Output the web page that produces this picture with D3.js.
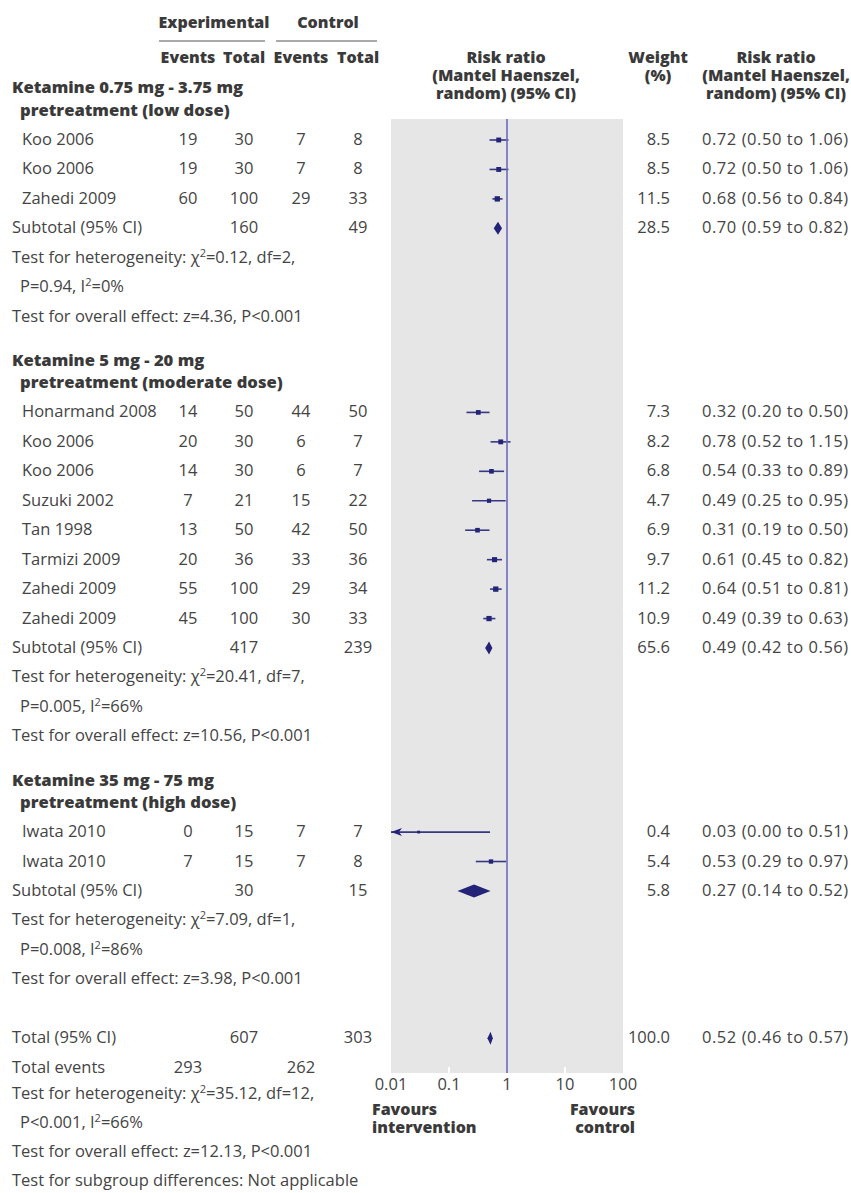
<!DOCTYPE html>
<html><head><meta charset="utf-8">
<script src="https://cdn.jsdelivr.net/npm/d3@7"></script>
<style>
html,body{margin:0;padding:0;background:#fff;}
svg{display:block;}
.t{font-family:"Open Sans",sans-serif;font-size:16.5px;font-weight:400;fill:#444;}
.ci{letter-spacing:0.55px;}
.b{font-family:"Open Sans",sans-serif;font-weight:800;font-size:16px;fill:#3a3a3a;}
.g{font-size:16.6px;}
</style></head>
<body><svg id="c" width="851" height="1193"></svg>
<script>
// ---------- data ----------
const groupLabels = [
  ["Ketamine 0.75 mg - 3.75 mg", "pretreatment (low dose)"],
  ["Ketamine 5 mg - 20 mg", "pretreatment (moderate dose)"],
  ["Ketamine 35 mg - 75 mg", "pretreatment (high dose)"]
];
const studyGroup = [0,0,0,1,1,1,1,1,1,1,1,2,2];
const studyNames = ["Koo 2006","Koo 2006","Zahedi 2009","Honarmand 2008","Koo 2006","Koo 2006","Suzuki 2002","Tan 1998","Tarmizi 2009","Zahedi 2009","Zahedi 2009","Iwata 2010","Iwata 2010"];
const expEvents = [19,19,60,14,20,14,7,13,20,55,45,0,7];
const expTotal  = [30,30,100,50,30,30,21,50,36,100,100,15,15];
const ctlEvents = [7,7,29,44,6,6,15,42,33,29,30,7,7];
const ctlTotal  = [8,8,33,50,7,7,22,50,36,34,33,7,8];
const weights   = [8.5,8.5,11.5,7.3,8.2,6.8,4.7,6.9,9.7,11.2,10.9,0.4,5.4];
const rr        = [0.72,0.72,0.68,0.32,0.78,0.54,0.49,0.31,0.61,0.64,0.49,0.03,0.53];
const rrLow     = [0.50,0.50,0.56,0.20,0.52,0.33,0.25,0.19,0.45,0.51,0.39,0.00,0.29];
const rrHigh    = [1.06,1.06,0.84,0.50,1.15,0.89,0.95,0.50,0.82,0.81,0.63,0.51,0.97];

const subExpTotal = [160,417,30];
const subCtlTotal = [49,239,15];
const subWeight   = [28.5,65.6,5.8];
const subRR       = [0.70,0.49,0.27];
const subLow      = [0.59,0.42,0.14];
const subHigh     = [0.82,0.56,0.52];
const hetChi      = ["0.12","20.41","7.09"];
const hetDf       = [2,7,1];
const hetP        = ["P=0.94","P=0.005","P=0.008"];
const hetI2       = ["0%","66%","86%"];
const effZ        = ["4.36","10.56","3.98"];
const effP        = ["P<0.001","P<0.001","P<0.001"];

const totExpTotal = 607, totCtlTotal = 303, totWeight = "100.0";
const totRR = 0.52, totLow = 0.46, totHigh = 0.57;
const totExpEvents = 293, totCtlEvents = 262;
const totChi = "35.12", totDf = 12, totP = "P<0.001", totI2 = "66%";
const totZ = "12.13", totEffP = "P<0.001";
const subgroupText = "Test for subgroup differences: Not applicable";

const axisTicks = [0.01, 0.1, 1, 10, 100];
const axisTickLabels = ["0.01","0.1","1","10","100"];

// ---------- layout ----------
const svg = d3.select("#c");
const NAVY = "#232378", LINE = "#6b6bbd";
const colX = {name:22, sub:12, ee:188, et:244, ce:301, ct:358, w:670, ci:702};
const x = d3.scaleLog().domain([0.01,100]).range([391,623]);
const step = 29.45;
const yRow = d3.scaleLinear().domain([0,1]).range([145,145+step]);
const panelTop = 119, panelBottom = 1073;

function fmt(v){return d3.format(".2f")(v);}
function ciText(r,l,h){return fmt(r)+" ("+fmt(l)+" to "+fmt(h)+")";}
function txt(xp,yp,s,cls,anchor){
  return svg.append("text").attr("class",cls||"t").attr("x",xp).attr("y",yp)
    .attr("text-anchor",anchor||"start").text(s);
}
function het(xp,yp,chi,df){
  const t = svg.append("text").attr("class","t").attr("x",xp).attr("y",yp);
  t.append("tspan").text("Test for heterogeneity: \u03C7");
  t.append("tspan").attr("dy",-6).attr("font-size",11).text("2");
  t.append("tspan").attr("dy",6).text("="+chi+", df="+df+",");
}
function het2(xp,yp,p,i2){
  const t = svg.append("text").attr("class","t").attr("x",xp).attr("y",yp);
  t.append("tspan").text(p+", I");
  t.append("tspan").attr("dy",-6).attr("font-size",11).text("2");
  t.append("tspan").attr("dy",6).text("="+i2);
}

// panel background
svg.append("rect").attr("x",x(0.01)).attr("y",panelTop)
  .attr("width",x(100)-x(0.01)).attr("height",panelBottom-panelTop).attr("fill","#e6e6e6");
// white tick marks at bottom
svg.selectAll(".wt").data(axisTicks.filter(d=>d!==1 && d!==0.01 && d!==100)).enter()
  .append("line").attr("x1",d=>x(d)).attr("x2",d=>x(d))
  .attr("y1",panelBottom-6).attr("y2",panelBottom).attr("stroke","#fff").attr("stroke-width",2);
// axis labels
svg.selectAll(".al").data(axisTicks).enter().append("text").attr("class","t")
  .attr("x",d=>x(d)).attr("y",1090).attr("text-anchor","middle")
  .text((d,i)=>axisTickLabels[i]);

// header
txt(214,28,"Experimental","b","middle");
txt(328,28,"Control","b","middle");
svg.append("line").attr("x1",159).attr("x2",265).attr("y1",41).attr("y2",41).attr("stroke","#555").attr("stroke-width",1);
svg.append("line").attr("x1",276).attr("x2",377).attr("y1",41).attr("y2",41).attr("stroke","#555").attr("stroke-width",1);
txt(colX.ee,63,"Events","b","middle");
txt(colX.et,63,"Total","b","middle");
txt(colX.ce,63,"Events","b","middle");
txt(colX.ct,63,"Total","b","middle");
["Risk ratio","(Mantel Haenszel,","random) (95% CI)"].forEach((s,i)=>{
  txt(506,63+i*18,s,"b","middle");
  txt(776,63+i*18,s,"b","middle");
});
txt(658,63,"Weight","b","middle");
txt(658,81,"(%)","b","middle");

// rows
let u = 0;
const markerSize = d3.scaleSqrt().domain([0,12]).range([2.2,5.4]);
groupLabels.forEach((gl,g)=>{
  if(g>0) u += 3.25;
  txt(colX.sub, yRow(u-1.75), gl[0], "b g");
  txt(colX.name-2, yRow(u-1.0), gl[1], "b g");
  const idx = d3.range(studyNames.length).filter(i=>studyGroup[i]===g);
  idx.forEach((i,k)=>{
    const yy = yRow(u);
    txt(colX.name,yy,studyNames[i]);
    txt(colX.ee,yy,expEvents[i],"t","middle");
    txt(colX.et,yy,expTotal[i],"t","middle");
    txt(colX.ce,yy,ctlEvents[i],"t","middle");
    txt(colX.ct,yy,ctlTotal[i],"t","middle");
    txt(colX.w,yy,weights[i].toFixed(1),"t","end");
    txt(colX.ci,yy,ciText(rr[i],rrLow[i],rrHigh[i]),"t ci");
    const cy = yy-5;
    const lo = rrLow[i] > 0.01 ? x(rrLow[i]) : x(0.01);
    svg.append("line").attr("x1",lo).attr("x2",x(rrHigh[i])).attr("y1",cy).attr("y2",cy)
      .attr("stroke",NAVY).attr("stroke-width",1.6).attr("stroke-opacity",0.9);
    if(rrLow[i] <= 0.01){
      const ax = x(0.01);
      svg.append("path").attr("d",`M${ax},${cy}L${ax+11},${cy-4}L${ax+8},${cy}L${ax+11},${cy+4}Z`).attr("fill",NAVY);
    }
    const s = markerSize(weights[i]);
    svg.append("rect").attr("x",x(rr[i])-s/2).attr("y",cy-s/2).attr("width",s).attr("height",s).attr("fill",NAVY);
    u += 1;
  });
  // subtotal
  let yy = yRow(u);
  txt(colX.sub,yy,"Subtotal (95% CI)");
  txt(colX.et,yy,subExpTotal[g],"t","middle");
  txt(colX.ct,yy,subCtlTotal[g],"t","middle");
  txt(colX.w,yy,subWeight[g].toFixed(1),"t","end");
  txt(colX.ci,yy,ciText(subRR[g],subLow[g],subHigh[g]),"t ci");
  let cy = yy-5;
  svg.append("path").attr("d",`M${x(subLow[g])},${cy}L${x(subRR[g])},${cy-6.5}L${x(subHigh[g])},${cy}L${x(subRR[g])},${cy+6.5}Z`).attr("fill",NAVY);
  u += 1;
  het(colX.sub,yRow(u),hetChi[g],hetDf[g]); u+=1;
  het2(colX.name-2,yRow(u),hetP[g],hetI2[g]); u+=1;
  txt(colX.sub,yRow(u),"Test for overall effect: z="+effZ[g]+", "+effP[g]);
});

// total
u += 2;
let ty = yRow(u);
txt(colX.sub,ty,"Total (95% CI)");
txt(colX.et,ty,totExpTotal,"t","middle");
txt(colX.ct,ty,totCtlTotal,"t","middle");
txt(colX.w,ty,totWeight,"t","end");
txt(colX.ci,ty,ciText(totRR,totLow,totHigh),"t ci");
svg.append("path").attr("d",`M${x(totLow)},${ty-5}L${x(totRR)},${ty-11.5}L${x(totHigh)},${ty-5}L${x(totRR)},${ty+1.5}Z`).attr("fill",NAVY);
u += 1;
txt(colX.sub,yRow(u),"Total events");
txt(colX.ee,yRow(u),totExpEvents,"t","middle");
txt(colX.ce,yRow(u),totCtlEvents,"t","middle");
het(colX.sub,yRow(u+0.9),totChi,totDf);
het2(colX.name-2,yRow(u+1.88),totP,totI2);
txt(colX.sub,yRow(u+2.87),"Test for overall effect: z="+totZ+", "+totEffP);
txt(colX.sub,yRow(u+3.85),subgroupText);

// line of no effect
svg.append("line").attr("x1",x(1)).attr("x2",x(1)).attr("y1",panelTop).attr("y2",panelBottom)
  .attr("stroke",LINE).attr("stroke-width",1.6);

// favours labels
txt(372,1115,"Favours","b");
txt(372,1133,"intervention","b");
txt(635,1115,"Favours","b","end");
txt(635,1133,"control","b","end");
</script></body></html>
